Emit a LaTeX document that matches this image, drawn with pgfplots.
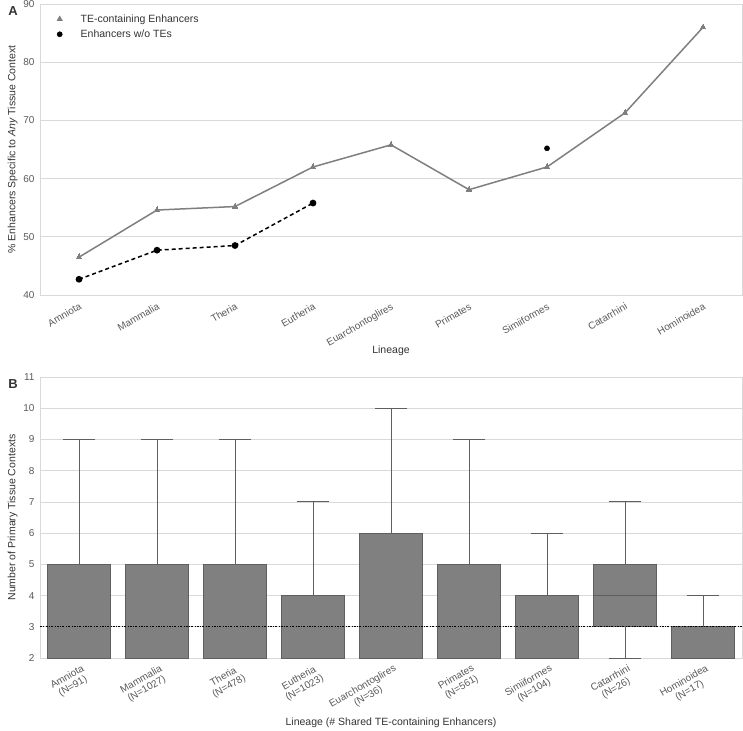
\documentclass[border=0pt]{standalone}
\usepackage{pgfplots}
\pgfplotsset{compat=1.18}
\usepgfplotslibrary{statistics}
\usepackage{fontspec}
\setmainfont{Liberation Sans}
\definecolor{gridc}{HTML}{D9D9D9}
\definecolor{tickc}{HTML}{595959}
\definecolor{labc}{HTML}{333333}
\definecolor{teline}{HTML}{7F7F7F}
\definecolor{boxfill}{HTML}{808080}
\definecolor{boxedge}{HTML}{5F5F5F}
\begin{document}
\begin{tikzpicture}[x=1pt,y=1pt]
\useasboundingbox (0,-730) rectangle (743,0);
\node[font=\bfseries\fontsize{13}{13}\selectfont, text=labc] at (13,-11) {A};
\node[font=\bfseries\fontsize{13}{13}\selectfont, text=labc] at (13,-384) {B};
% Panel A
\begin{axis}[
  at={(40pt,-295pt)}, anchor=south west,
  scale only axis, width=702pt, height=291pt,
  xmin=-0.5, xmax=8.5, ymin=40, ymax=90,
  xtick={0,...,8},
  xticklabels={Amniota,Mammalia,Theria,Eutheria,Euarchontoglires,Primates,Simiiformes,Catarrhini,Hominoidea},
  ytick={40,50,...,90},
  ymajorgrids, grid style={gridc, line width=0.8pt},
  axis line style={gridc, line width=0.8pt},
  major tick length=0pt,
  /pgf/number format/assume math mode=true,
  tick label style={font=\fontsize{10}{11}\selectfont, text=tickc},
  xticklabel style={rotate=30, anchor=north east, inner sep=2pt, yshift=-4pt, xshift=-2pt},
  yticklabel style={xshift=-2pt},
  xlabel={Lineage},
  xlabel style={at={(rel axis cs:0.5,0)}, anchor=center, yshift=-56pt, font=\fontsize{10.5}{11}\selectfont, text=labc},
  ylabel={\% Enhancers Specific to \textit{Any} Tissue Context},
  ylabel style={font=\fontsize{10.5}{11}\selectfont, text=labc, yshift=-1pt},
  legend style={at={(0.015,0.978)}, anchor=north west, draw=none, fill=none, font=\fontsize{10.5}{11}\selectfont, text=labc, row sep=2pt},
  legend cell align=left,
  clip=false,
]
\addplot[forget plot, teline, line width=1.5pt, mark=triangle*, mark size=3.2pt, mark options={fill=teline, draw=teline, line width=0pt}] coordinates {
 (0,46.5) (1,54.6) (2,55.2) (3,62.0) (4,65.8) (5,58.1) (6,62.0) (7,71.3) (8,86.0)
};
\addplot[forget plot, black, line width=1.5pt, dash pattern=on 4pt off 3pt, mark=*, mark size=2.6pt, mark options={solid, fill=black}] coordinates {
 (0,42.7) (1,47.7) (2,48.5) (3,55.8)
};
\addplot[forget plot, only marks, black, mark=*, mark size=2.6pt] coordinates {(6,65.2)};
\addlegendimage{legend image code/.code={\path[draw=none, fill=none] (0pt,0pt) -- (25pt,0pt); \draw[teline, fill=teline] plot[mark=triangle*, mark size=3.2pt, only marks] coordinates {(6pt,0pt)};}}
\addlegendentry{TE-containing Enhancers}
\addlegendimage{legend image code/.code={\path[draw=none, fill=none] (0pt,0pt) -- (25pt,0pt); \draw[black, fill=black] plot[mark=*, mark size=2.6pt, only marks] coordinates {(6pt,0pt)};}}
\addlegendentry{Enhancers w/o TEs}
\end{axis}
% Panel B
\begin{axis}[
  at={(40pt,-658pt)}, anchor=south west,
  scale only axis, width=702pt, height=281pt,
  xmin=-0.5, xmax=8.5, ymin=2, ymax=11,
  xtick={0,...,8},
  xticklabels={{Amniota\\(N=91)},{Mammalia\\(N=1027)},{Theria\\(N=478)},{Eutheria\\(N=1023)},{Euarchontoglires\\(N=36)},{Primates\\(N=561)},{Simiiformes\\(N=104)},{Catarrhini\\(N=26)},{Hominoidea\\(N=17)}},
  ytick={2,...,11},
  ymajorgrids, grid style={gridc, line width=0.8pt},
  axis line style={gridc, line width=0.8pt},
  major tick length=0pt,
  /pgf/number format/assume math mode=true,
  tick label style={font=\fontsize{10}{11}\selectfont, text=tickc},
  xticklabel style={rotate=30, anchor=north east, align=center, inner sep=1pt, yshift=-5pt, xshift=0pt},
  yticklabel style={xshift=-2pt},
  xlabel={Lineage (\# Shared TE-containing Enhancers)},
  xlabel style={at={(rel axis cs:0.5,0)}, anchor=center, yshift=-65pt, font=\fontsize{10.5}{11}\selectfont, text=labc},
  ylabel={Number of Primary Tissue Contexts},
  ylabel style={font=\fontsize{10.5}{11}\selectfont, text=labc, yshift=-1pt},
  boxplot/draw direction=y,
  boxplot/box extend=0.8,
  boxplot/whisker extend=0.42,
  clip=false,
]
\pgfplotsset{mybox/.style={fill=boxfill, draw=boxedge, line width=1pt}}
\addplot[mybox, boxplot prepared={draw position=0, lower whisker=2, lower quartile=2, median=2, upper quartile=5, upper whisker=9}] coordinates {};
\addplot[mybox, boxplot prepared={draw position=1, lower whisker=2, lower quartile=2, median=2, upper quartile=5, upper whisker=9}] coordinates {};
\addplot[mybox, boxplot prepared={draw position=2, lower whisker=2, lower quartile=2, median=2, upper quartile=5, upper whisker=9}] coordinates {};
\addplot[mybox, boxplot prepared={draw position=3, lower whisker=2, lower quartile=2, median=2, upper quartile=4, upper whisker=7}] coordinates {};
\addplot[mybox, boxplot prepared={draw position=4, lower whisker=2, lower quartile=2, median=2, upper quartile=6, upper whisker=10}] coordinates {};
\addplot[mybox, boxplot prepared={draw position=5, lower whisker=2, lower quartile=2, median=2, upper quartile=5, upper whisker=9}] coordinates {};
\addplot[mybox, boxplot prepared={draw position=6, lower whisker=2, lower quartile=2, median=2, upper quartile=4, upper whisker=6}] coordinates {};
\addplot[mybox, boxplot prepared={draw position=7, lower whisker=2, lower quartile=3, median=4, upper quartile=5, upper whisker=7}] coordinates {};
\addplot[mybox, boxplot prepared={draw position=8, lower whisker=2, lower quartile=2, median=2, upper quartile=3, upper whisker=4}] coordinates {};
\addplot[black, line width=0.7pt, dash pattern=on 2pt off 1.5pt on 0.6pt off 1.5pt] coordinates {(-0.5,3) (8.5,3)};
\end{axis}
\end{tikzpicture}
\end{document}
